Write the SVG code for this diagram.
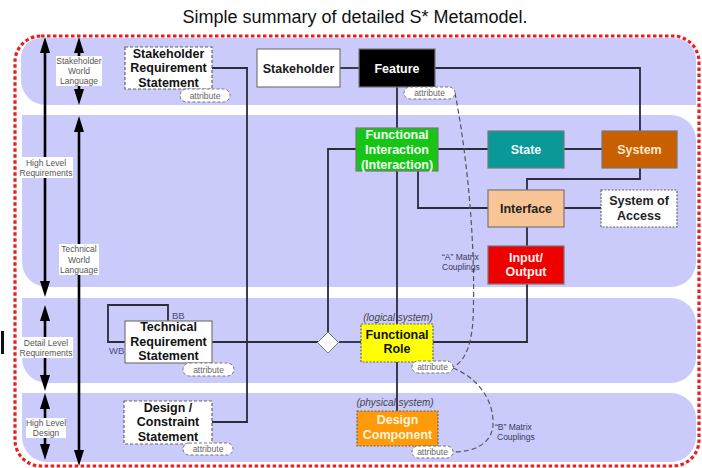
<svg xmlns="http://www.w3.org/2000/svg" width="702" height="468" viewBox="0 0 702 468">
  <style>
    text { font-family: "Liberation Sans", Arial, sans-serif; }
    .title { font-size: 18px; fill: #111; text-anchor: middle; }
    .band { fill: #cbcbfb; }
    .frame { fill: none; stroke: #ee1c1c; stroke-width: 3.2; stroke-dasharray: 3.5 2.5; }
    .lvl { stroke: #000; stroke-width: 2.6; fill: none; marker-start: url(#head); marker-end: url(#head); }
    .lvlbg { fill: #fff; }
    .lvltxt { font-size: 8.5px; fill: #555; text-anchor: middle; }
    .box { stroke: #777; stroke-width: 1.2; }
    .dash { stroke-dasharray: 3 2; stroke: #666; }
    .dot { stroke-dasharray: 2 1.5; stroke: #666; }
    .lbl { font-size: 12.5px; font-weight: bold; text-anchor: middle; }
    .attr rect { fill: #fff; stroke: #777; stroke-width: 1; stroke-dasharray: 3 2; }
    .attr text { font-size: 8.5px; fill: #666; text-anchor: middle; }
    .conn { fill: none; stroke: #2b2b3b; stroke-width: 1.8; }
    .coupling { fill: none; stroke: #555; stroke-width: 1.2; stroke-dasharray: 5 3; }
    .note { font-size: 8.5px; fill: #3a3a5a; }
    .sys { font-size: 10px; font-style: italic; fill: #444; text-anchor: middle; }
    .bw { font-size: 9.5px; fill: #4a4a7a; }
  </style>
  <defs>
    <marker id="head" viewBox="0 0 16 10" refX="6" refY="5" markerWidth="16" markerHeight="10" markerUnits="userSpaceOnUse" orient="auto-start-reverse">
      <path d="M0,0 L16,5 L0,10 Z" fill="#000"/>
    </marker>
  </defs>

  <text class="title" x="355" y="23">Simple summary of detailed S* Metamodel.</text>

  <!-- swim bands -->
  <g id="bands">
    <path class="band" d="M21,58 A20,20 0 0 1 41,38 H674 A22,22 0 0 1 696,60 V105 H46 A25,25 0 0 1 21,80 Z"/>
    <path class="band" d="M22,115 H671 A25,25 0 0 1 696,140 V262 A25,25 0 0 1 671,287 H47 A25,25 0 0 1 22,262 Z"/>
    <path class="band" d="M22,298 H671 A25,25 0 0 1 696,323 V358 A25,25 0 0 1 671,383 H47 A25,25 0 0 1 22,358 Z"/>
    <path class="band" d="M22,393 H671 A25,25 0 0 1 696,418 V437 A25,25 0 0 1 671,462 H47 A25,25 0 0 1 22,437 Z"/>
  </g>

  <rect class="frame" x="15" y="36" width="684" height="430" rx="26"/>
  <rect x="1" y="331" width="3" height="23" fill="#111"/>

  <!-- level scales -->
  <g id="levels">
    <line class="lvl" x1="45" y1="47" x2="45" y2="287"/>
    <line class="lvl" x1="79" y1="47" x2="79" y2="95"/>
    <line class="lvl" x1="79" y1="126" x2="79" y2="456"/>
    <line class="lvl" x1="45" y1="315" x2="45" y2="381"/>
    <line class="lvl" x1="45" y1="403" x2="45" y2="450"/>

    <rect class="lvlbg" x="56" y="56" width="46" height="30"/>
    <text class="lvltxt" x="79" y="64">Stakeholder</text>
    <text class="lvltxt" x="79" y="74">World</text>
    <text class="lvltxt" x="79" y="84">Language</text>

    <rect class="lvlbg" x="19" y="157" width="54" height="21"/>
    <text class="lvltxt" x="46" y="166">High Level</text>
    <text class="lvltxt" x="46" y="176">Requirements</text>

    <rect class="lvlbg" x="59" y="244" width="40" height="31"/>
    <text class="lvltxt" x="79" y="252">Technical</text>
    <text class="lvltxt" x="79" y="263">World</text>
    <text class="lvltxt" x="79" y="273">Language</text>

    <rect class="lvlbg" x="19" y="337" width="54" height="21"/>
    <text class="lvltxt" x="46" y="346">Detail Level</text>
    <text class="lvltxt" x="46" y="356">Requirements</text>

    <rect class="lvlbg" x="26" y="418" width="40" height="20"/>
    <text class="lvltxt" x="46" y="426">High Level</text>
    <text class="lvltxt" x="46" y="436">Design</text>
  </g>

  <!-- connectors -->
  <g id="connectors">
    <path class="conn" d="M212,68 H247 V422 H212"/>
    <path class="conn" d="M340,68 H359"/>
    <path class="conn" d="M435,68 H640 V131"/>
    <path class="conn" d="M397,87 V128"/>
    <path class="conn" d="M356,149 H328 V332"/>
    <path class="conn" d="M438,149 H488"/>
    <path class="conn" d="M564,149 H602"/>
    <path class="conn" d="M397,171 V324"/>
    <path class="conn" d="M418,171 V208 H488"/>
    <path class="conn" d="M640,168 V179 H527 V190"/>
    <path class="conn" d="M564,208 H601"/>
    <path class="conn" d="M527,227 V246"/>
    <path class="conn" d="M527,284 V342 H433"/>
    <path class="conn" d="M212,342 H318"/>
    <path class="conn" d="M339,342 H361"/>
    <path class="conn" d="M397,362 V411"/>
    <path class="conn" d="M168,321 V305 H108 V342 H125"/>
    <path class="coupling" d="M455,93 C468,160 476,250 473,320 C471,350 463,362 453,367"/>
    <path class="coupling" d="M453,368 C478,378 494,400 493,425 C492,443 475,452 453,452"/>
    <text class="note" x="442" y="260">“A” Matrix</text>
    <text class="note" x="442" y="270">Couplings</text>
    <text class="note" x="495" y="430">“B” Matrix</text>
    <text class="note" x="497" y="440">Couplings</text>
    <text class="bw" x="172" y="318.5">BB</text>
    <text class="bw" x="109" y="354">WB</text>
  </g>

  <g id="junction">
    <path d="M328,332 L338.5,342.5 L328,353 L317.5,342.5 Z" fill="#fff" stroke="#777" stroke-width="1"/>
  </g>

  <g id="stakeholder-requirement-statement">
    <rect class="box dash" x="125" y="47" width="87" height="42" fill="#fff"/>
    <text class="lbl" x="168.5" y="57.5" fill="#111">Stakeholder</text>
    <text class="lbl" x="168.5" y="72" fill="#111">Requirement</text>
    <text class="lbl" x="168.5" y="86.5" fill="#111">Statement</text>
    <g class="attr"><rect x="180" y="89" width="50" height="13" rx="6.5"/><text x="205" y="98.5">attribute</text></g>
  </g>

  <g id="stakeholder">
    <rect class="box" x="257" y="49" width="83" height="38" fill="#fff"/>
    <text class="lbl" x="298.5" y="72.5" fill="#1a1a1a">Stakeholder</text>
  </g>

  <g id="feature">
    <rect class="box" x="359" y="49" width="76" height="38" fill="#000" stroke="#444"/>
    <text class="lbl" x="397" y="72.5" fill="#fff">Feature</text>
    <g class="attr"><rect x="404" y="87" width="51" height="12" rx="6"/><text x="429.5" y="96">attribute</text></g>
  </g>

  <g id="functional-interaction">
    <rect class="box" x="356" y="128" width="82" height="43" fill="#16c516"/>
    <text class="lbl" x="397" y="138.5" fill="#f4fff4">Functional</text>
    <text class="lbl" x="397" y="153.5" fill="#f4fff4">Interaction</text>
    <text class="lbl" x="397" y="168.5" fill="#f4fff4">(Interaction)</text>
  </g>

  <g id="state">
    <rect class="box" x="488" y="131" width="76" height="37" fill="#0a9898"/>
    <text class="lbl" x="526" y="154" fill="#eefafa">State</text>
  </g>

  <g id="system">
    <rect class="box" x="602" y="131" width="75" height="37" fill="#c96000"/>
    <text class="lbl" x="639.5" y="154" fill="#fbe8cc">System</text>
  </g>

  <g id="interface">
    <rect class="box" x="488" y="190" width="76" height="37" fill="#f9c596"/>
    <text class="lbl" x="526" y="213" fill="#222">Interface</text>
  </g>

  <g id="system-of-access">
    <rect class="box dot" x="601" y="190" width="76" height="37" fill="#fff"/>
    <text class="lbl" x="639" y="205" fill="#222">System of</text>
    <text class="lbl" x="639" y="219.5" fill="#222">Access</text>
  </g>

  <g id="input-output">
    <rect class="box" x="488" y="246" width="76" height="38" fill="#ee0000"/>
    <text class="lbl" x="526" y="261.5" fill="#fff0f0">Input/</text>
    <text class="lbl" x="526" y="276" fill="#fff0f0">Output</text>
  </g>

  <g id="technical-requirement-statement">
    <rect class="box" x="125" y="321" width="87" height="42" fill="#fff"/>
    <text class="lbl" x="168.5" y="331" fill="#111">Technical</text>
    <text class="lbl" x="168.5" y="346" fill="#111">Requirement</text>
    <text class="lbl" x="168.5" y="360" fill="#111">Statement</text>
    <g class="attr"><rect x="183" y="363" width="51" height="13" rx="6.5"/><text x="208.5" y="372.5">attribute</text></g>
  </g>

  <g id="functional-role">
    <text class="sys" x="398" y="321">(logical system)</text>
    <rect class="box dot" x="361" y="324" width="72" height="38" fill="#ffff00"/>
    <text class="lbl" x="397" y="338.7" fill="#111">Functional</text>
    <text class="lbl" x="397" y="353.3" fill="#111">Role</text>
    <g class="attr"><rect x="412" y="361" width="41" height="12" rx="6"/><text x="432.5" y="370">attribute</text></g>
  </g>

  <g id="design-constraint-statement">
    <rect class="box dash" x="124" y="401" width="88" height="43" fill="#fff"/>
    <text class="lbl" x="168" y="411.5" fill="#111">Design /</text>
    <text class="lbl" x="168" y="426" fill="#111">Constraint</text>
    <text class="lbl" x="168" y="440.5" fill="#111">Statement</text>
    <g class="attr"><rect x="183" y="443" width="50" height="12" rx="6"/><text x="208" y="452">attribute</text></g>
  </g>

  <g id="design-component">
    <text class="sys" x="395" y="406">(physical system)</text>
    <rect class="box dot" x="357" y="411" width="81" height="35" fill="#ff9a0a"/>
    <text class="lbl" x="397.5" y="424.3" fill="#fff3dd">Design</text>
    <text class="lbl" x="397.5" y="439.3" fill="#fff3dd">Component</text>
    <g class="attr"><rect x="412" y="446" width="41" height="12" rx="6"/><text x="432.5" y="455">attribute</text></g>
  </g>
</svg>
